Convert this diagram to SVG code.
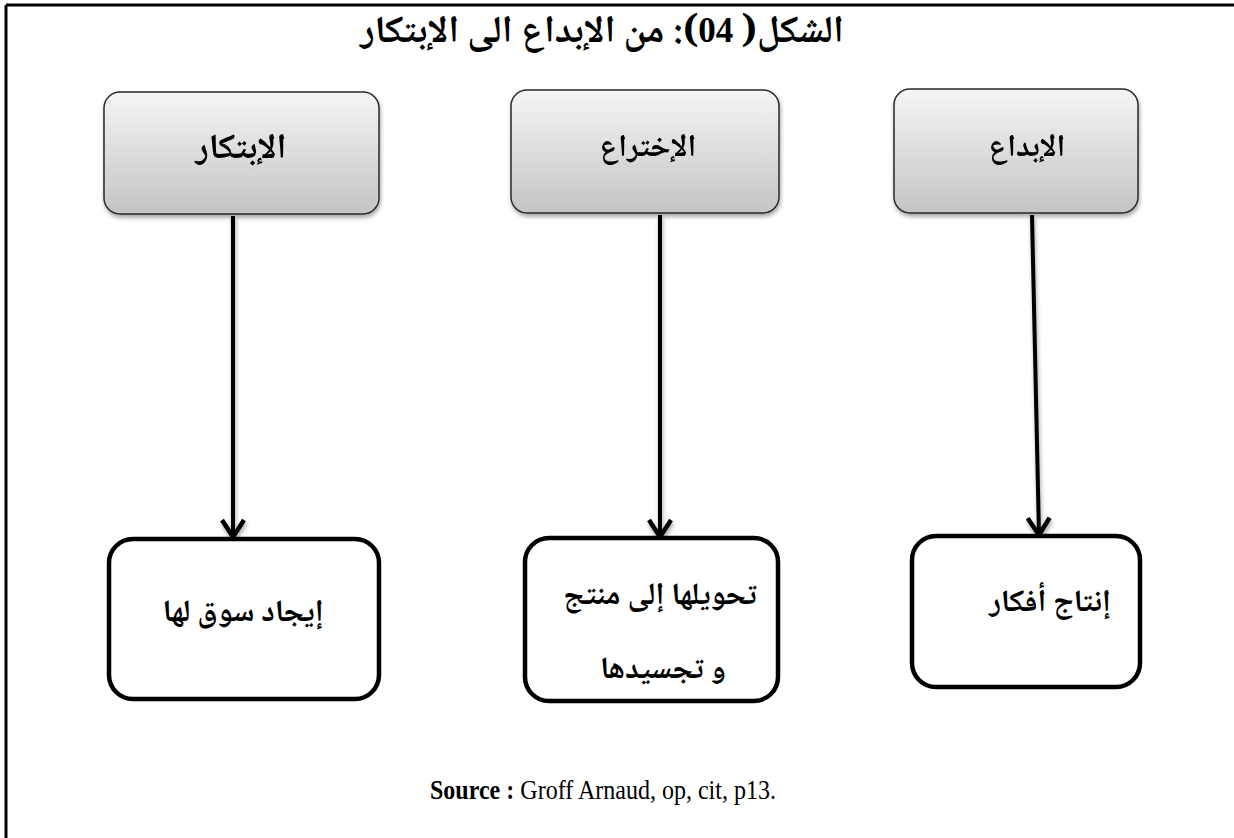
<svg xmlns="http://www.w3.org/2000/svg" width="1234" height="838" viewBox="0 0 1234 838">
  <defs>
    <linearGradient id="headFill" x1="0" y1="0" x2="0" y2="1">
      <stop offset="0" stop-color="#f5f5f5"/>
      <stop offset="1" stop-color="#c4c4c4"/>
    </linearGradient>
    <filter id="shadow" x="-10%" y="-10%" width="120%" height="130%">
      <feGaussianBlur in="SourceAlpha" stdDeviation="2"/>
      <feOffset dx="1" dy="3" result="b"/>
      <feComponentTransfer><feFuncA type="linear" slope="0.35"/></feComponentTransfer>
      <feMerge><feMergeNode/><feMergeNode in="SourceGraphic"/></feMerge>
    </filter>
    <!-- open chevron head, drawn along +x so orient="auto" points it down the line -->
    <marker id="chevron" viewBox="0 0 22 26" refX="19" refY="13" markerWidth="22" markerHeight="26" markerUnits="userSpaceOnUse" orient="auto">
      <path d="M2,2 L19,13 L2,24" fill="none" stroke="#000" stroke-width="4.5" stroke-linejoin="miter"/>
    </marker>
  </defs>
  <style>
    .ar { font-family: "Noto Naskh Arabic", "Noto Sans Arabic", "DejaVu Sans", sans-serif; font-weight: bold; fill: #000; direction: rtl; }
    .head rect { fill: url(#headFill); stroke: #2a2a2a; stroke-width: 1.5; }
    .leaf rect { fill: #fff; stroke: #000; stroke-width: 4.5; }
    .lbl { font-size: 31px; text-anchor: middle; }
    .edge { stroke: #000; stroke-width: 4; fill: none; marker-end: url(#chevron); }
  </style>

  <rect width="1234" height="838" fill="#fff"/>

  <!-- page frame (top and left rules) -->
  <path d="M6,5 H1234 M6,5 V838" stroke="#000" stroke-width="3" fill="none"/>

  <!-- title -->
  <text id="title" class="ar" x="602" y="42" font-size="38" text-anchor="middle">الشكل( <tspan font-family="Liberation Serif, serif" font-size="35">04</tspan>): من الإبداع الى الإبتكار</text>

  <!-- top stage boxes -->
  <g id="innovation" class="head" filter="url(#shadow)">
    <rect x="104" y="92" width="275" height="122" rx="16"/>
    <text class="ar lbl" x="241" y="158" style="font-size:35px">الإبتكار</text>
  </g>
  <g id="invention" class="head" filter="url(#shadow)">
    <rect x="511" y="90" width="268" height="123" rx="16"/>
    <text class="ar lbl" x="648" y="156">الإختراع</text>
  </g>
  <g id="creativity" class="head" filter="url(#shadow)">
    <rect x="894" y="89" width="244" height="124" rx="16"/>
    <text class="ar lbl" x="1027" y="156">الإبداع</text>
  </g>

  <!-- connectors -->
  <g id="connectors" filter="url(#shadow)">
    <line class="edge" x1="233" y1="216" x2="233" y2="537"/>
    <line class="edge" x1="660" y1="215" x2="660" y2="537"/>
    <line class="edge" x1="1032" y1="215" x2="1039" y2="535"/>
  </g>

  <!-- bottom outcome boxes -->
  <g id="find-market" class="leaf">
    <rect x="109" y="539" width="270" height="160" rx="24"/>
    <text class="ar lbl" x="243" y="621">إيجاد سوق لها</text>
  </g>
  <g id="make-product" class="leaf">
    <rect x="525" y="538" width="253" height="163" rx="24"/>
    <text class="ar lbl" x="660" y="604">تحويلها إلى منتج</text>
    <text class="ar lbl" x="663" y="678">و تجسيدها</text>
  </g>
  <g id="produce-ideas" class="leaf">
    <rect x="912" y="536" width="228" height="151" rx="24"/>
    <text class="ar lbl" x="1050" y="611">إنتاج أفكار</text>
  </g>

  <!-- source line, set in a slightly condensed Times-like face -->
  <text id="source" transform="translate(430,799) scale(0.89,1)" font-family="Liberation Serif, serif" font-size="27"><tspan font-weight="bold">Source :</tspan> Groff Arnaud, op, cit, p13.</text>
</svg>
